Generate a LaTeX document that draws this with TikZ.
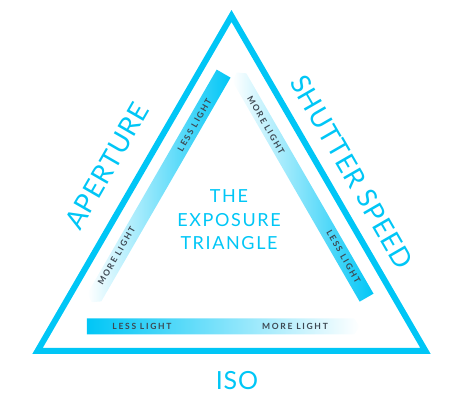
\documentclass[tikz,border=0pt]{standalone}
\usepackage{fontspec}
\setmainfont{Lato}
\newfontfamily\barfont[LetterSpace=20]{Lato}
\newfontfamily\titlefont[LetterSpace=9]{Lato}
\newfontfamily\bigfont[LetterSpace=3]{Lato}
\usetikzlibrary{shapes.arrows}
\definecolor{cy}{HTML}{00C6F6}
\definecolor{txt}{HTML}{3D4852}
\tikzset{
  bar/.style={single arrow, single arrow head extend=0pt, single arrow tip angle=110,
    minimum width=16pt, inner sep=0pt, draw=none},
  barfwd/.style={bar, left color=cy, right color=white},
  barrev/.style={bar, left color=white, right color=cy},
  barlbl/.style={text=txt, font=\barfont\bfseries\fontsize{8.5}{10}\selectfont, inner sep=0pt},
  biglbl/.style={text=cy, font=\bigfont\fontsize{27}{30}\selectfont, inner sep=0pt},
}
\begin{document}
\begin{tikzpicture}[x=1pt,y=1pt]
\useasboundingbox (0,0) rectangle (463,411);
% outer triangle
\coordinate (A) at (231.5,395);
\coordinate (L) at (37.5,60);
\coordinate (R) at (425.5,60);
\draw[cy, line width=6pt, miter limit=10] (A) -- (L) -- (R) -- cycle;
% bars
\node[barrev, minimum height=264pt, rotate=240] (lb) at (159,225.5) {};
\node[barrev, minimum height=260pt, rotate=120] (rb) at (303,223.5) {};
\node[barfwd, minimum height=273pt, rotate=0] (bb) at (220.5,84.5) {};
% bar labels
\node[barlbl, rotate=60] (l1) at (194.5,286) {LESS LIGHT};
\node[barlbl, rotate=60] (l2) at (116.5,155) {MORE LIGHT};
\node[barlbl, rotate=-60] (r1) at (266,286) {MORE LIGHT};
\node[barlbl, rotate=-60] (r2) at (343.5,154.5) {LESS LIGHT};
\node[barlbl] (b1) at (142,84.5) {LESS LIGHT};
\node[barlbl] (b2) at (295,84.5) {MORE LIGHT};
% side labels
\node[biglbl, rotate=60] (ap) at (107,245) {APERTURE};
\node[biglbl, rotate=-60] (ss) at (352,239) {SHUTTER SPEED};
\node[biglbl, font=\bigfont\fontsize{25}{30}\selectfont] (iso) at (237,30) {ISO};
% title
\node[text=cy, font=\titlefont\fontsize{18}{23.5}\selectfont, align=center, inner sep=0pt] (t) at (229,191) {THE\\EXPOSURE\\TRIANGLE};
\end{tikzpicture}
\end{document}
